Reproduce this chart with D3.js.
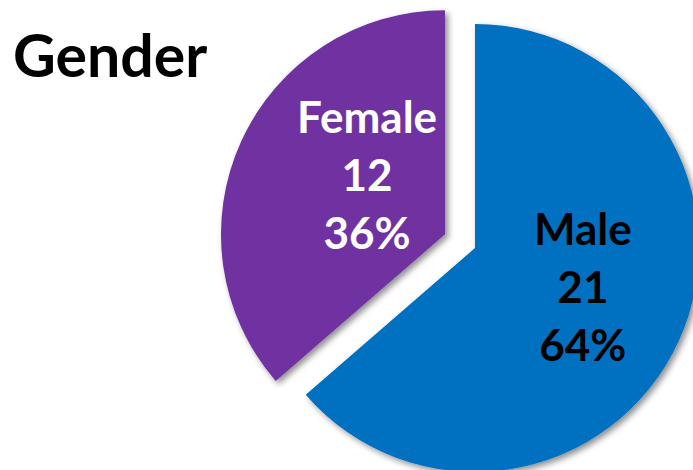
<!DOCTYPE html>
<html>
<head>
<meta charset="utf-8">
<script src="https://cdn.jsdelivr.net/npm/d3@7"></script>
<style>
  body { margin: 0; background: #fff; }
  svg { display: block; }
</style>
</head>
<body>
<svg id="chart" width="693" height="470"></svg>
<script>
var categories = ['Male', 'Female'];
var counts = [21, 12];
var sliceColors = ['#0070C0', '#7030A0'];
var labelColors = ['#000000', '#ffffff'];
var explode = [0, 33];
// small hand nudges so labels sit where the original placed them
var labelNudge = [[6, -7], [24, -12]];

var svg = d3.select('#chart');
var radius = 224;
var cx = 475, cy = 248;

var defs = svg.append('defs');
defs.append('filter')
  .attr('id', 'shadow')
  .attr('x', '-20%').attr('y', '-20%')
  .attr('width', '140%').attr('height', '140%')
  .append('feDropShadow')
  .attr('dx', 3)
  .attr('dy', 3)
  .attr('stdDeviation', 3)
  .attr('flood-color', '#000')
  .attr('flood-opacity', 0.45);

svg.append('text')
  .attr('x', 13)
  .attr('y', 77)
  .attr('font-family', 'Lato, sans-serif')
  .attr('font-weight', 'bold')
  .attr('font-size', 59)
  .attr('fill', '#000')
  .text('Gender');

var total = d3.sum(counts);
var data = categories.map(function(c, i) {
  return { name: c, value: counts[i], i: i };
});

var pie = d3.pie().sort(null).value(function(d) { return d.value; });
var arc = d3.arc().innerRadius(0).outerRadius(radius);
var labelArc = d3.arc().innerRadius(radius * 0.5).outerRadius(radius * 0.5);

var g = svg.append('g').attr('transform', 'translate(' + cx + ',' + cy + ')');

var slices = g.selectAll('g.slice')
  .data(pie(data))
  .enter()
  .append('g')
  .classed('slice', true)
  .attr('transform', function(d) {
    var a = (d.startAngle + d.endAngle) / 2;
    var o = explode[d.data.i];
    return 'translate(' + (Math.sin(a) * o) + ',' + (-Math.cos(a) * o) + ')';
  });

slices.append('path')
  .attr('d', arc)
  .attr('fill', function(d) { return sliceColors[d.data.i]; })
  .attr('filter', 'url(#shadow)');

slices.each(function(d) {
  var c = labelArc.centroid(d);
  var n = labelNudge[d.data.i];
  var lines = [d.data.name, String(d.data.value), Math.round(d.data.value / total * 100) + '%'];
  var t = d3.select(this).append('text')
    .attr('transform', 'translate(' + (c[0] + n[0]) + ',' + (c[1] + n[1]) + ')')
    .attr('text-anchor', 'middle')
    .attr('font-family', 'Lato, sans-serif')
    .attr('font-weight', 'bold')
    .attr('font-size', 44)
    .attr('fill', labelColors[d.data.i]);
  t.selectAll('tspan')
    .data(lines)
    .enter()
    .append('tspan')
    .attr('x', 0)
    .attr('y', function(l, k) { return (k - 1) * 58 + 15; })
    .text(function(l) { return l; });
});
</script>
</body>
</html>
